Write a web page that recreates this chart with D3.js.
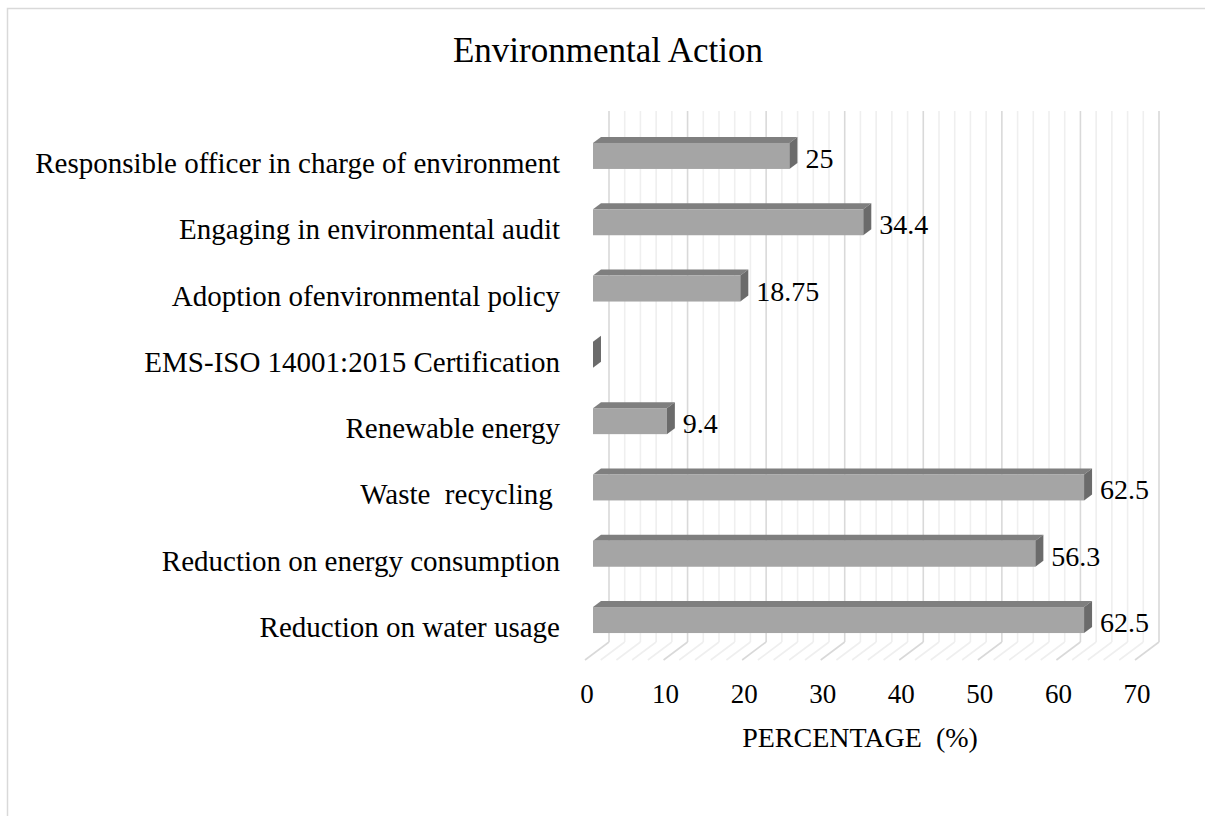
<!DOCTYPE html>
<html>
<head>
	<meta charset="utf-8">
	<title>Environmental Action</title>
	<script type="text/javascript" src="https://cdn.jsdelivr.net/npm/d3@7"></script>
	<style>
		body { margin: 0; background: #fff; }
		text { font-family: "Liberation Serif", "Times New Roman", serif; fill: #000; }
	</style>
</head>
<body>
	<div id="chart"></div>

	<script type="text/javascript">

	/* data, top to bottom as in the picture */
	var categories = [
		"Responsible officer in charge of environment",
		"Engaging in environmental audit",
		"Adoption ofenvironmental policy",
		"EMS-ISO 14001:2015 Certification",
		"Renewable energy",
		"Waste  recycling ",
		"Reduction on energy consumption",
		"Reduction on water usage"
	];
	var values = [25, 34.4, 18.75, 0, 9.4, 62.5, 56.3, 62.5];
	var valueLabels = ["25", "34.4", "18.75", "", "9.4", "62.5", "56.3", "62.5"];
	var xTicks = [0, 10, 20, 30, 40, 50, 60, 70];

	var W = 1205, H = 816;
	var svg = d3.select("#chart").append("svg")
		.attr("width", W).attr("height", H);

	/* chart border */
	svg.append("rect")
		.attr("x", 7.5).attr("y", 8.5)
		.attr("width", W).attr("height", H)
		.attr("fill", "#fff").attr("stroke", "#d9d9d9").attr("stroke-width", 1.5);

	/* 3d projection: full depth moves (+24, -18) */
	var DX = 24, DY = 18;
	var xBack = d3.scaleLinear().domain([0, 70]).range([609, 1159]);
	var xFront = function(v) { return xBack(v) - DX; };
	var xBar = function(v) { return xBack(v) - DX * 2 / 3; };   // bar front face at 1/3 depth
	var wallTop = 111, wallBottom = 642;

	var y = d3.scaleBand().domain(categories)
		.range([122.8, 653.2]).paddingInner(0.608).paddingOuter(0.304);

	var g = svg.append("g");

	/* back wall gridlines + floor diagonals, every 2 units */
	var minor = d3.range(0, 70.001, 2);
	g.selectAll("line.grid").data(minor).enter().append("line")
		.attr("class", "grid")
		.attr("x1", function(d) { return xBack(d); })
		.attr("x2", function(d) { return xBack(d); })
		.attr("y1", wallTop).attr("y2", wallBottom)
		.attr("stroke", function(d) { return d % 10 === 0 ? "#d9d9d9" : "#efefef"; })
		.attr("stroke-width", 1.6);

	g.selectAll("line.floor").data(minor).enter().append("line")
		.attr("class", "floor")
		.attr("x1", function(d) { return xBack(d); })
		.attr("x2", function(d) { return xFront(d); })
		.attr("y1", wallBottom).attr("y2", wallBottom + DY)
		.attr("stroke", function(d) { return d % 10 === 0 ? "#d9d9d9" : "#efefef"; })
		.attr("stroke-width", 1.6);

	/* bars */
	var dx = DX / 3, dy = DY / 3;
	var bars = g.selectAll("g.bar").data(categories).enter().append("g").attr("class", "bar");

	bars.append("path")   // top face
		.attr("d", function(d, i) {
			var x0 = xBar(0), x1 = xBar(values[i]), t = y(d);
			return "M" + x0 + "," + t + "L" + (x0 + dx) + "," + (t - dy) +
				"L" + (x1 + dx) + "," + (t - dy) + "L" + x1 + "," + t + "Z";
		})
		.attr("fill", "#7f7f7f");

	bars.append("rect")   // front face
		.attr("x", xBar(0))
		.attr("y", function(d) { return y(d); })
		.attr("width", function(d, i) { return xBar(values[i]) - xBar(0); })
		.attr("height", y.bandwidth())
		.attr("fill", "#a5a5a5");

	bars.append("path")   // side face
		.attr("d", function(d, i) {
			var x1 = xBar(values[i]), t = y(d), b = y(d) + y.bandwidth();
			return "M" + x1 + "," + t + "L" + (x1 + dx) + "," + (t - dy) +
				"L" + (x1 + dx) + "," + (b - dy) + "L" + x1 + "," + b + "Z";
		})
		.attr("fill", "#6b6b6b");

	/* data labels */
	bars.append("text")
		.attr("x", function(d, i) { return xBar(values[i]) + dx + 8; })
		.attr("y", function(d) { return y(d) + y.bandwidth() / 2 + 12; })
		.style("font-size", "28px")
		.text(function(d, i) { return valueLabels[i]; });

	/* category labels */
	svg.selectAll("text.cat").data(categories).enter().append("text")
		.attr("class", "cat")
		.attr("x", 560)
		.attr("y", function(d) { return y(d) + y.bandwidth() / 2 + 17; })
		.attr("text-anchor", "end")
		.attr("xml:space", "preserve")
		.style("white-space", "pre")
		.style("font-size", "29px")
		.text(function(d) { return d; });

	/* x tick labels */
	svg.selectAll("text.tick").data(xTicks).enter().append("text")
		.attr("class", "tick")
		.attr("x", function(d) { return xFront(d) + 2; })
		.attr("y", 703)
		.attr("text-anchor", "middle")
		.style("font-size", "27px")
		.text(function(d) { return d; });

	/* axis title */
	svg.append("text")
		.attr("x", 860).attr("y", 747)
		.attr("text-anchor", "middle")
		.attr("xml:space", "preserve")
		.style("white-space", "pre")
		.style("font-size", "28px")
		.text("PERCENTAGE  (%)");

	/* chart title */
	svg.append("text")
		.attr("x", 608).attr("y", 62)
		.attr("text-anchor", "middle")
		.style("font-size", "35px")
		.text("Environmental Action");

	</script>
</body>
</html>
